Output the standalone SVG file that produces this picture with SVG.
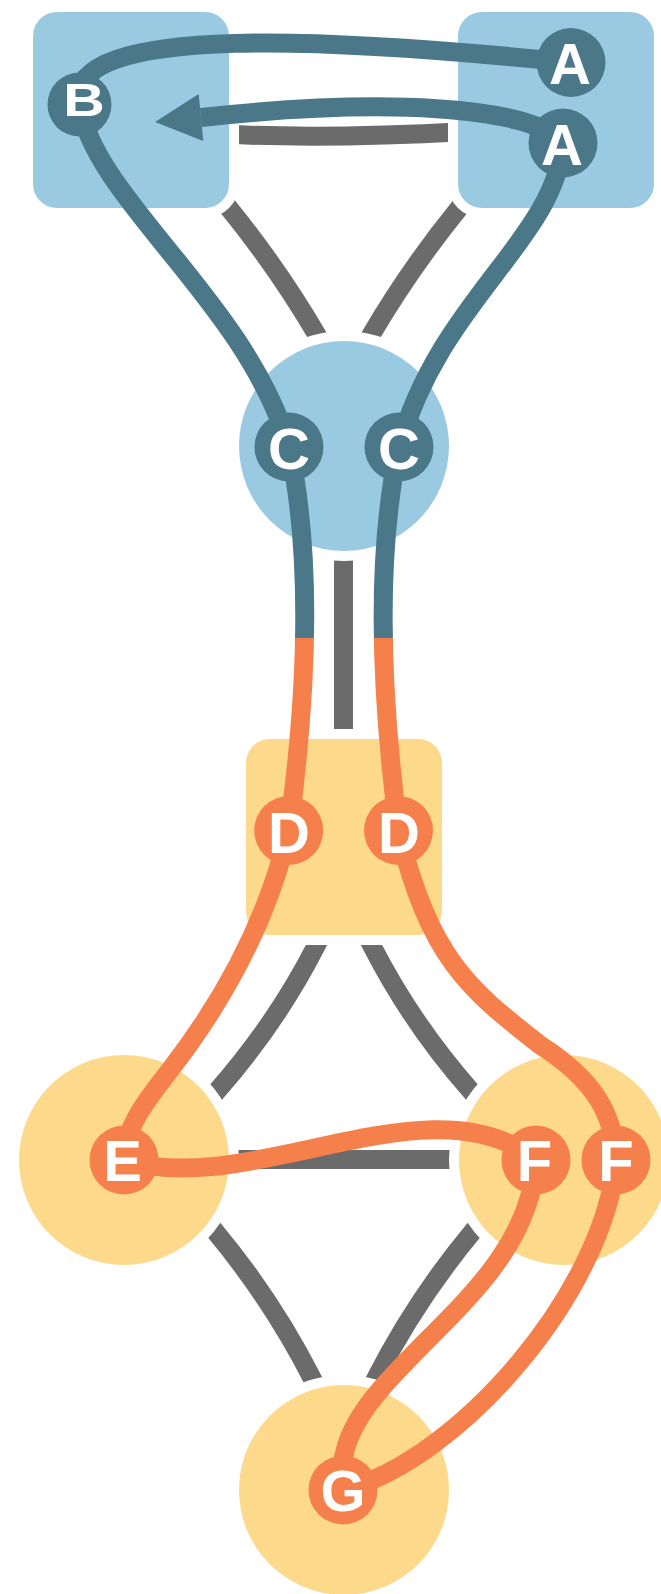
<svg xmlns="http://www.w3.org/2000/svg" width="661" height="1594" viewBox="0 0 661 1594">
<defs>
<style>
.gray{fill:none;stroke:#6b6b6b;stroke-width:19;stroke-linecap:butt;stroke-linejoin:round}
.blob{stroke:#fff;stroke-width:20;paint-order:stroke}
.blue{fill:#9acae1}
.yellow{fill:#fdd98b}
.flow{fill:none;stroke-width:19;stroke-linecap:butt;stroke-linejoin:round}
.teal{stroke:#4b7888}
.orange{stroke:#f6804b}
.split{stroke:url(#split)}
.pt{fill:#4b7888}
.po{fill:#f6804b}
.lbl{font-family:"Liberation Sans",Arial,sans-serif;font-weight:bold;font-size:58px;fill:#fff;text-anchor:middle}
</style>
<linearGradient id="split" gradientUnits="userSpaceOnUse" x1="0" y1="0" x2="0" y2="1594">
<stop offset="0.40025" stop-color="#4b7888"/>
<stop offset="0.40025" stop-color="#f6804b"/>
</linearGradient>
</defs>

<g id="gray-connectors">
<path class="gray" d="M225,134.3 Q330,139 463,131.7"/>
<path class="gray" d="M217.9,194.6 L228,207 Q277.4,267.6 317,335 L323.6,346.2"/>
<path class="gray" d="M470.1,194.6 L460,207 Q410.6,267.6 371,335 L364.4,346.2"/>
<path class="gray" d="M343.5,540 L343.5,750"/>
<path class="gray" d="M322.8,932.6 L316,946 Q276,1024 217,1091 L207.7,1101.5"/>
<path class="gray" d="M365.2,932.6 L372,946 Q412,1024 471,1091 L480.3,1101.5"/>
<path class="gray" d="M215,1159.5 L470,1159.5"/>
<path class="gray" d="M205,1219.2 L214,1230 Q271.9,1299.4 313,1380 L319.4,1392.5"/>
<path class="gray" d="M483,1219.2 L474,1230 Q416.1,1299.4 375,1380 L368.6,1392.5"/>
</g>

<g id="node-left"><rect class="blob blue" x="33" y="12" width="196" height="196" rx="24"/></g>
<g id="node-right"><rect class="blob blue" x="458" y="12" width="196" height="196" rx="24"/></g>
<g id="node-c"><circle class="blob blue" cx="344" cy="446" r="105"/></g>
<g id="node-d"><rect class="blob yellow" x="246" y="739" width="196" height="196" rx="24"/></g>
<g id="node-e"><circle class="blob yellow" cx="124" cy="1160" r="105"/></g>
<g id="node-f"><circle class="blob yellow" cx="564" cy="1160" r="105"/></g>
<g id="node-g"><circle class="blob yellow" cx="344" cy="1490" r="105"/></g>

<g id="flow-connectors">
<path class="flow teal" d="M571,62.5 C350,40 60,20 79.5,104.5"/>
<path class="flow teal" d="M563,143 C530,105 380,98 201,117.5"/>
<polygon fill="#4b7888" points="155,122 198.7,94 203.3,141"/>
<path class="flow teal" d="M79.5,104.5 C95,200 245,300 289,447"/>
<path class="flow teal" d="M563,143 C555,240 440,300 399,447"/>
<path class="flow split" d="M289,447 C307,530 313,650 288.7,830.5"/>
<path class="flow split" d="M399,447 C381,530 375,650 398.5,830.5"/>
<path class="flow orange" d="M288.7,830.5 C270,910 232,990 170,1070 C152,1094 124,1125 124,1160"/>
<path class="flow orange" d="M398.5,830.5 C430,960 470,990 540,1045 C595,1080 614,1115 616,1160"/>
<path class="flow orange" d="M124,1160 C250,1200 430,1075 536,1160"/>
<path class="flow orange" d="M536,1160 C530,1260 440,1320 380,1390 C350,1425 338,1455 343,1490"/>
<path class="flow orange" d="M616,1160 C605,1290 460,1460 343,1490"/>
</g>

<g id="port-a1"><circle class="pt" cx="571" cy="62.5" r="34.5"/><text class="lbl" x="570" y="84">A</text></g>
<g id="port-a2"><circle class="pt" cx="563" cy="143" r="34.5"/><text class="lbl" x="562" y="164.5">A</text></g>
<g id="port-b"><circle class="pt" cx="79.5" cy="104.5" r="32"/><text class="lbl" style="font-size:46px" transform="translate(84,115.5) scale(1.25,1)" x="0" y="0">B</text></g>
<g id="port-c1"><circle class="pt" cx="289" cy="447" r="34.5"/><text class="lbl" x="289" y="468.5">C</text></g>
<g id="port-c2"><circle class="pt" cx="399" cy="447" r="34.5"/><text class="lbl" x="399" y="468.5">C</text></g>
<g id="port-d1"><circle class="po" cx="288.7" cy="830.5" r="34.5"/><text class="lbl" x="289" y="852.5">D</text></g>
<g id="port-d2"><circle class="po" cx="398.5" cy="830.5" r="34.5"/><text class="lbl" x="399" y="852.5">D</text></g>
<g id="port-e"><circle class="po" cx="124" cy="1160" r="34.5"/><text class="lbl" x="122.5" y="1181">E</text></g>
<g id="port-f1"><circle class="po" cx="536" cy="1160" r="34.5"/><text class="lbl" x="534.5" y="1181">F</text></g>
<g id="port-f2"><circle class="po" cx="616" cy="1160" r="34.5"/><text class="lbl" x="616" y="1181">F</text></g>
<g id="port-g"><circle class="po" cx="343" cy="1490" r="34.5"/><text class="lbl" x="343" y="1511">G</text></g>
</svg>
